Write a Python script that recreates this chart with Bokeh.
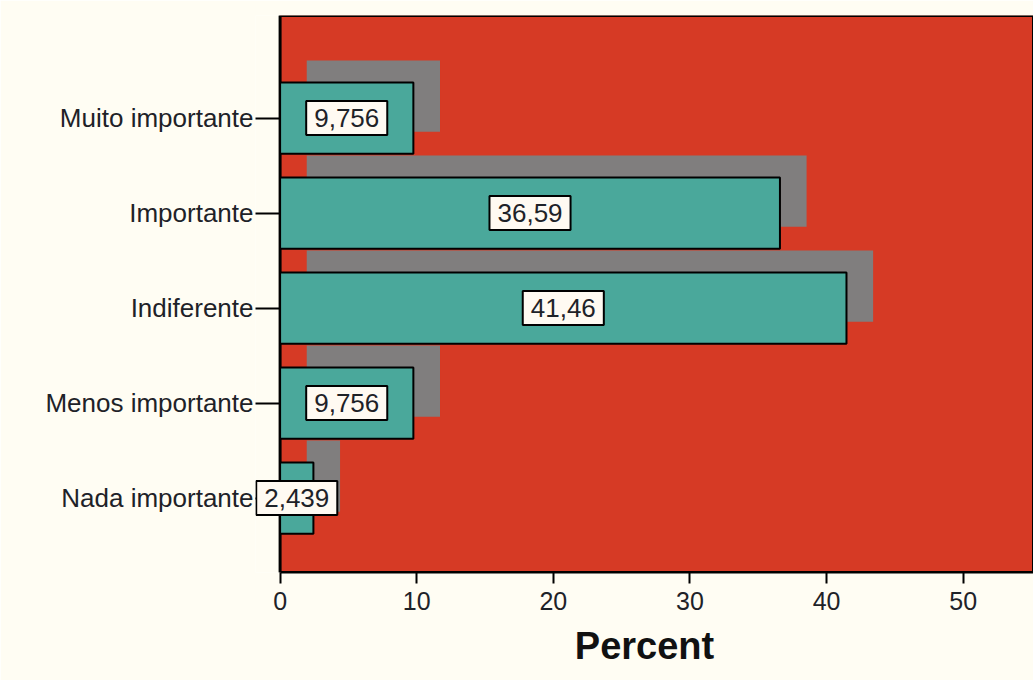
from bokeh.plotting import figure
from bokeh.models import ColumnDataSource, FixedTicker, Label
from bokeh.embed import file_html
from bokeh.resources import INLINE

categories = ["Nada importante", "Menos importante", "Indiferente", "Importante", "Muito importante"]
percents = [2.439, 9.756, 41.46, 36.59, 9.756]
value_labels = ["2,439", "9,756", "41,46", "36,59", "9,756"]
x_ticks = [0, 10, 20, 30, 40, 50]

RED = "#d63a25"
TEAL = "#4aa89b"
GRAY = "#807e7e"
CREAM = "#fffdf3"
TXT = "#1e2228"

pos = list(range(len(categories)))
shadow_dx = 1.95
shadow_dy = 0.23
bar_h = 0.75
X0, X1 = 0, 55.15
Y0, Y1 = -0.784, 5.079
XPAD = -1.8

src = ColumnDataSource(dict(
    y=pos,
    v=percents,
    sy=[p + shadow_dy for p in pos],
    sl=[shadow_dx] * len(pos),
    sr=[v + shadow_dx for v in percents],
))

p = figure(width=1033, height=680, output_backend="svg", toolbar_location=None,
           x_range=(XPAD, X1), y_range=(Y0, Y1),
           min_border_left=255, min_border_right=0, min_border_top=15, min_border_bottom=108)

p.background_fill_color = CREAM
p.border_fill_color = CREAM
p.outline_line_color = None
p.xgrid.visible = False
p.ygrid.visible = False

# red plotting area starting at x = 0
p.quad(left=[X0], right=[X1], bottom=[Y0], top=[Y1],
       fill_color=RED, line_color="black", line_width=3)

p.hbar(y="sy", left="sl", right="sr", height=bar_h, source=src,
       fill_color=GRAY, line_color=None)
p.hbar(y="y", left=0, right="v", height=bar_h, source=src,
       fill_color=TEAL, line_color="black", line_width=2)

for yp, v, lab in zip(pos, percents, value_labels):
    p.add_layout(Label(x=v / 2, y=yp, text=lab,
                       text_align="center", text_baseline="middle",
                       text_font="Liberation Sans", text_font_size="26px", text_color=TXT,
                       background_fill_color="#fffaf2", border_line_color="black",
                       border_line_width=2, padding=8))

xa = p.xaxis[0]
xa.ticker = FixedTicker(ticks=x_ticks)
xa.bounds = (X0, X1)
xa.axis_label = "Percent"
xa.axis_label_text_font = "Liberation Sans"
xa.axis_label_text_font_style = "bold"
xa.axis_label_text_font_size = "38px"
xa.axis_label_text_color = "#111111"
xa.axis_label_standoff = 12
xa.major_label_text_font = "Liberation Sans"
xa.major_label_text_font_size = "25px"
xa.major_label_text_color = TXT
xa.major_label_standoff = 8
xa.major_tick_out = 11
xa.major_tick_in = 0
xa.minor_tick_out = 0
xa.minor_tick_in = 0
xa.axis_line_width = 2
xa.major_tick_line_width = 2

ya = p.yaxis[0]
ya.ticker = FixedTicker(ticks=pos)
ya.major_label_overrides = {i: c for i, c in zip(pos, categories)}
ya.major_label_text_font = "Liberation Sans"
ya.major_label_text_font_size = "26px"
ya.major_label_text_color = TXT
ya.major_label_standoff = 2
ya.major_tick_out = 0
ya.major_tick_in = 25
ya.minor_tick_out = 0
ya.minor_tick_in = 0
ya.axis_line_color = None
ya.major_tick_line_width = 2

open("out.html", "w").write(file_html(p, INLINE))
